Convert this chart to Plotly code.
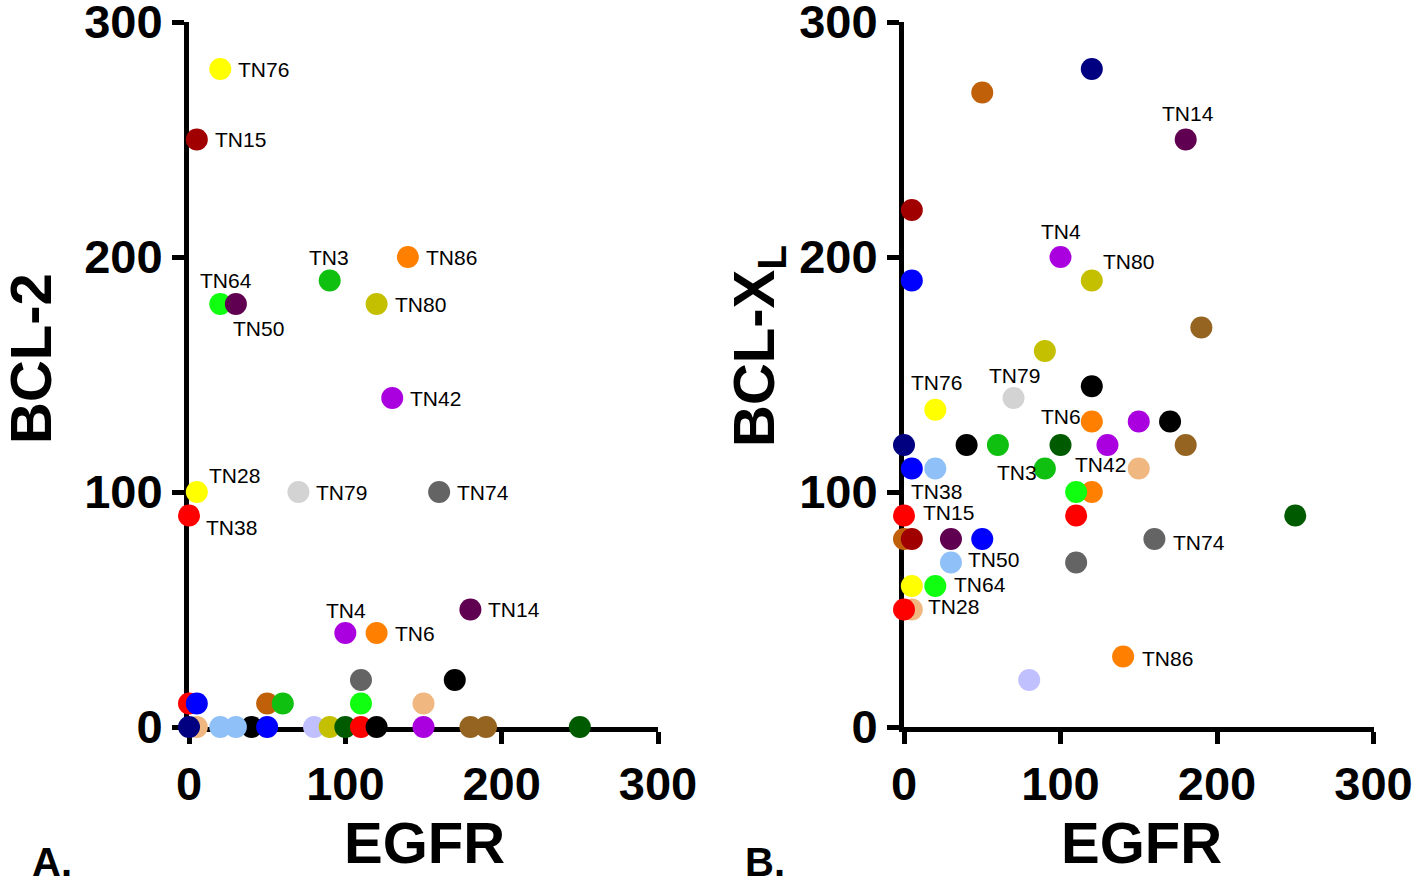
import plotly.graph_objects as go

# ---------------- Colours ----------------
YEL = "#FFFF00"; DKRED = "#A00000"; BGRN = "#10FF10"; DKPUR = "#600050"
GRN = "#10C010"; ORG = "#FF8000"; OLV = "#C4C000"; PUR = "#AA00E0"
RED = "#FF0000"; LGRY = "#D3D3D3"; GRY = "#646464"; NAVY = "#000080"
PEACH = "#F0B880"; LBLU = "#90C0F8"; BLK = "#000000"; BLU = "#0000FF"
BORG = "#C06008"; LAV = "#C0C0FF"; DKGRN = "#005A00"; BRN = "#956420"

# ---------------- Panel A data (EGFR vs BCL-2) ----------------
egfr_a = [5, 0, 0, 5, 40, 20, 30, 50, 50, 60, 80, 90, 100, 110, 120, 110, 110,
          150, 150, 170, 180, 190, 250,
          20, 5, 20, 30, 90, 140, 120, 130, 5, 0, 70, 160, 100, 120, 180]
bcl2_a = [0, 0, 10, 10, 0, 0, 0, 0, 10, 10, 0, 0, 0, 0, 0, 10, 20,
          0, 10, 20, 0, 0, 0,
          280, 250, 180, 180, 190, 200, 180, 140, 100, 90, 100, 100, 40, 40, 50]
colors_a = [PEACH, NAVY, RED, BLU, BLK, LBLU, LBLU, BLU, BORG, GRN, LAV, OLV, DKGRN,
            RED, BLK, BGRN, GRY, PUR, PEACH, BLK, BRN, BRN, DKGRN,
            YEL, DKRED, BGRN, DKPUR, GRN, ORG, OLV, PUR, YEL, RED, LGRY, GRY, PUR, ORG, DKPUR]
labels_a = [""] * 23 + ["TN76", "TN15", "TN64", "TN50", "TN3", "TN86", "TN80", "TN42",
                        "TN28", "TN38", "TN79", "TN74", "TN4", "TN6", "TN14"]
# label offsets in pixels (left edge of text, vertical centre) relative to point
offs_a = {"TN76": (16, 0), "TN15": (16, 0), "TN64": (-22, 24), "TN50": (-5, -24),
          "TN3": (-23, 23), "TN86": (16, 0), "TN80": (16, 0), "TN42": (16, 0),
          "TN28": (10, 17), "TN38": (15, -12), "TN79": (16, 0), "TN74": (16, 0),
          "TN4": (-21, 23), "TN6": (16, 0), "TN14": (16, 0)}

# ---------------- Panel B data (EGFR vs BCL-XL) ----------------
egfr_b = [50, 120, 180, 5, 5, 100, 120, 190, 90, 20, 70, 120, 120, 150, 170,
          0, 40, 60, 100, 130, 180, 5, 20, 90, 150, 120, 110, 110, 250,
          0, 0, 5, 30, 50, 160, 30, 110, 5, 20, 5, 0, 140, 80]
bclxl_b = [270, 280, 250, 220, 190, 200, 190, 170, 160, 135, 140, 145, 130, 130, 130,
           120, 120, 120, 120, 120, 120, 110, 110, 110, 110, 100, 100, 90, 90,
           90, 80, 80, 80, 80, 80, 70, 70, 60, 60, 50, 50, 30, 20]
colors_b = [BORG, NAVY, DKPUR, DKRED, BLU, PUR, OLV, BRN, OLV, YEL, LGRY, BLK, ORG, PUR, BLK,
            NAVY, BLK, GRN, DKGRN, PUR, BRN, BLU, LBLU, GRN, PEACH, ORG, BGRN, RED, DKGRN,
            RED, BORG, DKRED, DKPUR, BLU, GRY, LBLU, GRY, YEL, BGRN, PEACH, RED, ORG, LAV]
labels_b = ["", "", "TN14", "", "", "TN4", "TN80", "", "", "TN76", "TN79", "", "TN6", "", "",
            "", "", "", "", "TN42", "", "", "", "TN3", "", "", "", "", "",
            "TN38", "", "TN15", "", "", "TN74", "TN50", "", "", "TN64", "TN28", "", "TN86", ""]
offs_b = {"TN14": (-26, 26), "TN4": (-22, 26), "TN80": (9, 19), "TN76": (-26, 27),
          "TN79": (-27, 23), "TN6": (-53, 5), "TN42": (-34, -19), "TN3": (-50, -4),
          "TN38": (5, 24), "TN15": (9, 27), "TN74": (17, -3), "TN50": (15, 3),
          "TN64": (17, 2), "TN28": (14, 3), "TN86": (17, -2)}

tick_vals = [0, 100, 200, 300]
W, H = 1418, 881
FONT = "Liberation Sans, Arial, sans-serif"

fig = go.Figure()
fig.add_trace(go.Scatter(x=egfr_a, y=bcl2_a, mode="markers", xaxis="x", yaxis="y",
                         marker=dict(size=22, color=colors_a, line=dict(width=0)),
                         cliponaxis=False, hoverinfo="skip", showlegend=False))
fig.add_trace(go.Scatter(x=egfr_b, y=bclxl_b, mode="markers", xaxis="x2", yaxis="y2",
                         marker=dict(size=22, color=colors_b, line=dict(width=0)),
                         cliponaxis=False, hoverinfo="skip", showlegend=False))

ann = []
for xs, ys, labs, offs, xr, yr in [(egfr_a, bcl2_a, labels_a, offs_a, "x", "y"),
                                   (egfr_b, bclxl_b, labels_b, offs_b, "x2", "y2")]:
    for xv, yv, lab in zip(xs, ys, labs):
        if not lab:
            continue
        dx, dy = offs[lab]
        ann.append(dict(x=xv, y=yv, xref=xr, yref=yr, text=lab, showarrow=False,
                        xanchor="left", yanchor="middle", xshift=dx, yshift=dy,
                        font=dict(family=FONT, size=21, color="black")))

def px(xp):
    return xp / W

def py(yp):
    return (H - yp) / H

title_font = dict(family=FONT, size=58, color="black", weight="bold")
ann += [
    dict(x=px(425), y=py(842), xref="paper", yref="paper", text="EGFR", showarrow=False,
         xanchor="center", yanchor="middle", font=title_font),
    dict(x=px(1141), y=py(842), xref="paper", yref="paper", text="EGFR", showarrow=False,
         xanchor="center", yanchor="middle", font=title_font),
    dict(x=px(31), y=py(359), xref="paper", yref="paper", text="BCL-2", showarrow=False,
         textangle=-90, xanchor="center", yanchor="middle", font=title_font),
    dict(x=px(758), y=py(346), xref="paper", yref="paper", text="BCL-X<sub>L</sub>",
         showarrow=False, textangle=-90, xanchor="center", yanchor="middle", font=title_font),
    dict(x=px(52), y=py(862), xref="paper", yref="paper", text="A.", showarrow=False,
         xanchor="center", yanchor="middle", font=dict(family=FONT, size=40, color="black", weight="bold")),
    dict(x=px(765), y=py(862), xref="paper", yref="paper", text="B.", showarrow=False,
         xanchor="center", yanchor="middle", font=dict(family=FONT, size=40, color="black", weight="bold")),
]

axis_common = dict(range=[0, 300], tickvals=tick_vals, ticktext=[str(v) for v in tick_vals],
                   showgrid=False, zeroline=False, showline=True, linewidth=5, linecolor="black",
                   ticks="outside", ticklen=12, tickwidth=5, tickcolor="black",
                   tickfont=dict(family=FONT, size=47, color="black", weight="bold"),
                   layer="below traces", fixedrange=True, automargin=False,
                   ticklabeloverflow="allow")

ydom = [py(727), py(22)]
fig.update_layout(
    width=W, height=H, autosize=False,
    margin=dict(l=0, r=0, t=0, b=0),
    paper_bgcolor="white", plot_bgcolor="white",
    xaxis=dict(domain=[px(189), px(658)], anchor="y", **axis_common),
    yaxis=dict(domain=ydom, anchor="x", **axis_common),
    xaxis2=dict(domain=[px(904), px(1373.5)], anchor="y2", **axis_common),
    yaxis2=dict(domain=ydom, anchor="x2", **axis_common),
    annotations=ann,
)

post = ("document.body.style.margin='0';document.body.style.padding='0';"
        "document.body.style.overflow='hidden';"
        "document.documentElement.style.overflow='hidden';")
fig.write_html("out.html", post_script=post, config={"displayModeBar": False})
